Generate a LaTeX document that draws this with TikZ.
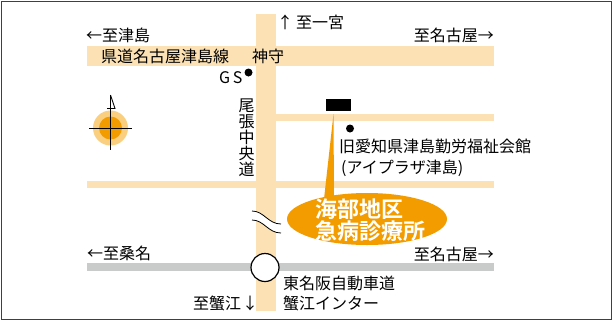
\documentclass[tikz,border=0pt]{standalone}
\usepackage{fontspec}
\usetikzlibrary{shapes.geometric}
\setmainfont{Noto Sans CJK JP}
\newfontfamily\callfont{Noto Sans CJK JP Bold}
\definecolor{road}{HTML}{FBE1B3}
\definecolor{hwy}{HTML}{C9CACA}
\definecolor{org}{HTML}{F39C00}
\definecolor{orgl}{HTML}{FBCF80}
\definecolor{frameC}{HTML}{404040}
\tikzset{
 lbl/.style={inner sep=0pt,font=\fontsize{16}{16}\selectfont,text=black},
 roadbar/.style={fill=road,draw=none},
 pin/.style={circle,fill=black,inner sep=0pt,minimum size=8pt},
 wave/.style={draw=black,line width=.8pt},
}
\begin{document}
\begin{tikzpicture}[x=1pt,y=-1pt]
\useasboundingbox (0,0) rectangle (613,322);
\fill[white] (0,0) rectangle (613,322);
\draw[frameC,line width=1.3pt] (1.5,1.5) rectangle (611.5,319.5);
% roads
\fill[roadbar] (87,46) rectangle (494,66);
\fill[roadbar] (276,114) rectangle (494,121);
\fill[roadbar] (87,181) rectangle (494,188);
\fill[hwy] (87,263) rectangle (494,271);
\fill[roadbar] (256,14) rectangle (276,311);
% break marks
\fill[white] (252,211) .. controls (264,211) and (268,224) .. (281,224) -- (281,233) .. controls (268,233) and (264,220) .. (252,220) -- cycle;
\draw[wave] (252,211) .. controls (264,211) and (268,224) .. (281,224);
\draw[wave] (252,220) .. controls (264,220) and (268,233) .. (281,233);
% interchange
\node[circle,draw=black,fill=white,line width=1.2pt,minimum size=28pt,inner sep=0pt] (ic) at (265,267.5) {};
% compass
\fill[orgl] (110.5,128) circle (17.5);
\fill[org] (110.5,128) circle (11.5);
\draw[black,line width=.8pt] (89,128) -- (132,128);
\draw[black,line width=.8pt] (110.5,95) -- (110.5,150);
\draw[black,line width=.8pt] (110.5,95) -- (115,108.5) -- (107,108.5);
% markers
\node[pin] (gs) at (248.5,72.5) {};
\node[pin] (old) at (350,128.5) {};
\node[fill=black,minimum width=25pt,minimum height=12pt,inner sep=0pt] (site) at (338.5,105) {};
% callout
\node[ellipse,fill=org,minimum width=160pt,minimum height=52pt,inner sep=0pt] (call) at (367,219) {};
\coordinate (tip) at (333.5,114);
\fill[org] (tip) -- (334,197) -- (324,199) -- cycle;
\node[lbl,anchor=west,align=left,text=white,font=\callfont\fontsize{22}{20}\selectfont] (calltext) at (315,220) {海部地区\\急病診療所};
% labels
\node[lbl,anchor=west] (a1) at (86,35) {←至津島};
\node[lbl,anchor=west] (a2) at (101,56) {県道名古屋津島線};
\node[lbl,anchor=west] (a3) at (252,56) {神守};
\node[lbl,anchor=west] (a4) at (277,22) {↑\hspace{3pt}至一宮};
\node[lbl,anchor=east] (a5) at (494,35) {至名古屋→};
\node[lbl,anchor=west] (a6) at (219,78) {G\,S};
\node[lbl,align=center,font=\fontsize{16}{16}\selectfont] (a7) at (246.5,138) {尾\\張\\中\\央\\道};
\node[lbl,anchor=west,align=left,font=\fontsize{16}{21}\selectfont] (a8) at (339,158) {旧愛知県津島勤労福祉会館\\\hspace{2pt}(アイプラザ津島)};
\node[lbl,anchor=west] (a9) at (87,253) {←至桑名};
\node[lbl,anchor=east] (a10) at (494,254) {至名古屋→};
\node[lbl,anchor=west,align=left,font=\fontsize{16}{20}\selectfont] (a11) at (283,293) {東名阪自動車道\\蟹江インター};
\node[lbl,anchor=west] (a12) at (193,303) {至蟹江\hspace{1pt}↓};
\end{tikzpicture}
\end{document}
